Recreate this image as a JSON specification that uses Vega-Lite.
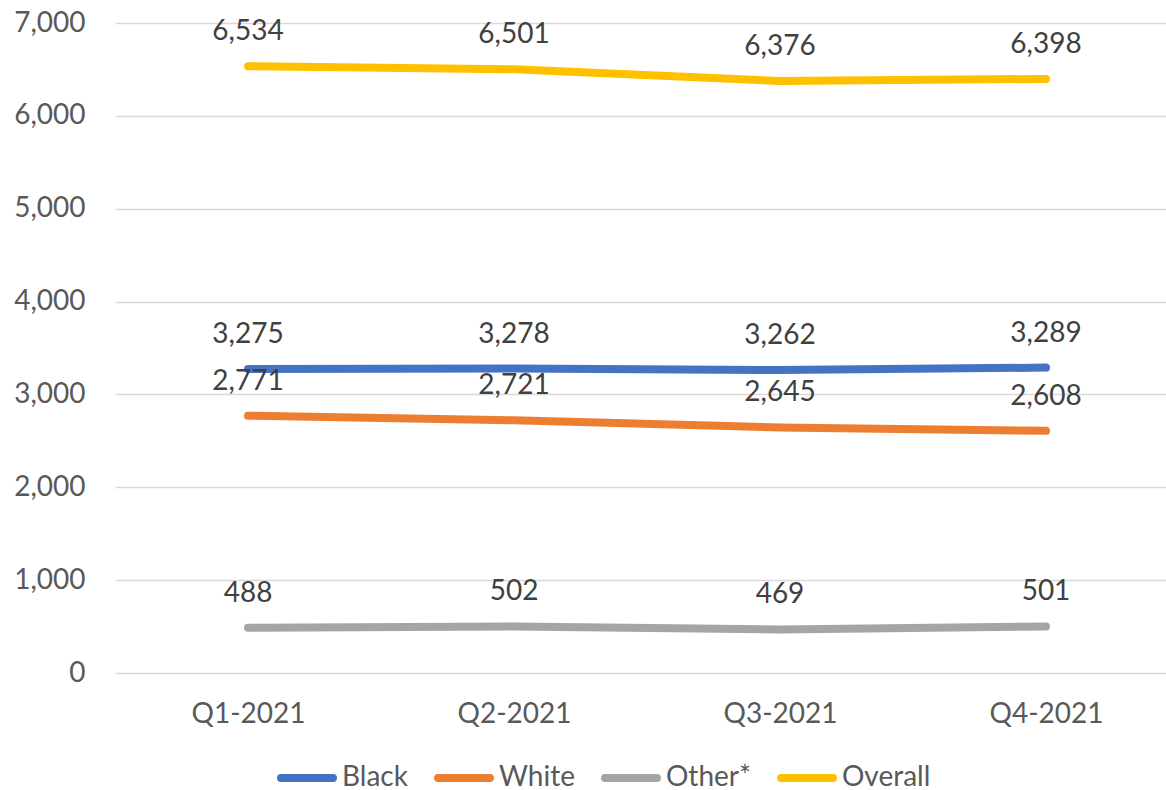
{
  "$schema": "https://vega.github.io/schema/vega-lite/v6.json",
  "width": 1051,
  "height": 650,
  "autosize": {"type": "none"},
  "padding": {"left": 115, "top": 23, "right": 0, "bottom": 117},
  "background": "white",
  "config": {"view": {"stroke": null}, "font": "Lato"},
  "data": {
    "values": [
      {"quarter": "Q1-2021", "group": "Black", "value": 3275},
      {"quarter": "Q2-2021", "group": "Black", "value": 3278},
      {"quarter": "Q3-2021", "group": "Black", "value": 3262},
      {"quarter": "Q4-2021", "group": "Black", "value": 3289},
      {"quarter": "Q1-2021", "group": "White", "value": 2771},
      {"quarter": "Q2-2021", "group": "White", "value": 2721},
      {"quarter": "Q3-2021", "group": "White", "value": 2645},
      {"quarter": "Q4-2021", "group": "White", "value": 2608},
      {"quarter": "Q1-2021", "group": "Other*", "value": 488},
      {"quarter": "Q2-2021", "group": "Other*", "value": 502},
      {"quarter": "Q3-2021", "group": "Other*", "value": 469},
      {"quarter": "Q4-2021", "group": "Other*", "value": 501},
      {"quarter": "Q1-2021", "group": "Overall", "value": 6534},
      {"quarter": "Q2-2021", "group": "Overall", "value": 6501},
      {"quarter": "Q3-2021", "group": "Overall", "value": 6376},
      {"quarter": "Q4-2021", "group": "Overall", "value": 6398}
    ]
  },
  "encoding": {
    "x": {
      "field": "quarter",
      "type": "ordinal",
      "sort": ["Q1-2021", "Q2-2021", "Q3-2021", "Q4-2021"],
      "scale": {"type": "point", "padding": 0.4756, "align": 0.5257},
      "axis": {
        "title": null,
        "domain": false,
        "ticks": false,
        "grid": false,
        "labelAngle": 0,
        "labelFont": "Lato",
        "labelFontSize": 28,
        "labelColor": "#595959",
        "labelPadding": 27
      }
    },
    "y": {
      "field": "value",
      "type": "quantitative",
      "scale": {"domain": [0, 7000], "nice": false},
      "axis": {
        "title": null,
        "domain": false,
        "ticks": false,
        "values": [0, 1000, 2000, 3000, 4000, 5000, 6000, 7000],
        "format": ",d",
        "labelFont": "Lato",
        "labelFontSize": 28,
        "labelColor": "#595959",
        "labelPadding": 30,
        "gridColor": "#D9D9D9",
        "gridWidth": 1.5
      }
    },
    "color": {
      "field": "group",
      "type": "nominal",
      "sort": ["Black", "White", "Other*", "Overall"],
      "scale": {
        "domain": ["Black", "White", "Other*", "Overall"],
        "range": ["#4472C4", "#ED7D31", "#A5A5A5", "#FFC000"]
      },
      "legend": {
        "title": null,
        "orient": "none",
        "direction": "horizontal",
        "legendX": 160,
        "legendY": 723,
        "symbolType": "M-0.8667,-0.0667H0.8667A0.0667,0.0667 0 0 1 0.8667,0.0667H-0.8667A0.0667,0.0667 0 0 1 -0.8667,-0.0667Z",
        "symbolSize": 3600,
        "symbolStrokeWidth": 4,
        "labelFont": "Lato",
        "labelFontSize": 28,
        "labelColor": "#595959",
        "labelOffset": 3,
        "labelLimit": 0,
        "columnPadding": 19
      }
    }
  },
  "layer": [
    {
      "mark": {"type": "line", "strokeWidth": 8, "strokeCap": "round", "strokeJoin": "round"}
    },
    {
      "mark": {"type": "text", "dy": -34, "baseline": "middle", "fontSize": 28, "font": "Lato", "color": "#404040"},
      "encoding": {
        "text": {"field": "value", "type": "quantitative", "format": ","},
        "color": {"value": "#404040"}
      }
    }
  ]
}
